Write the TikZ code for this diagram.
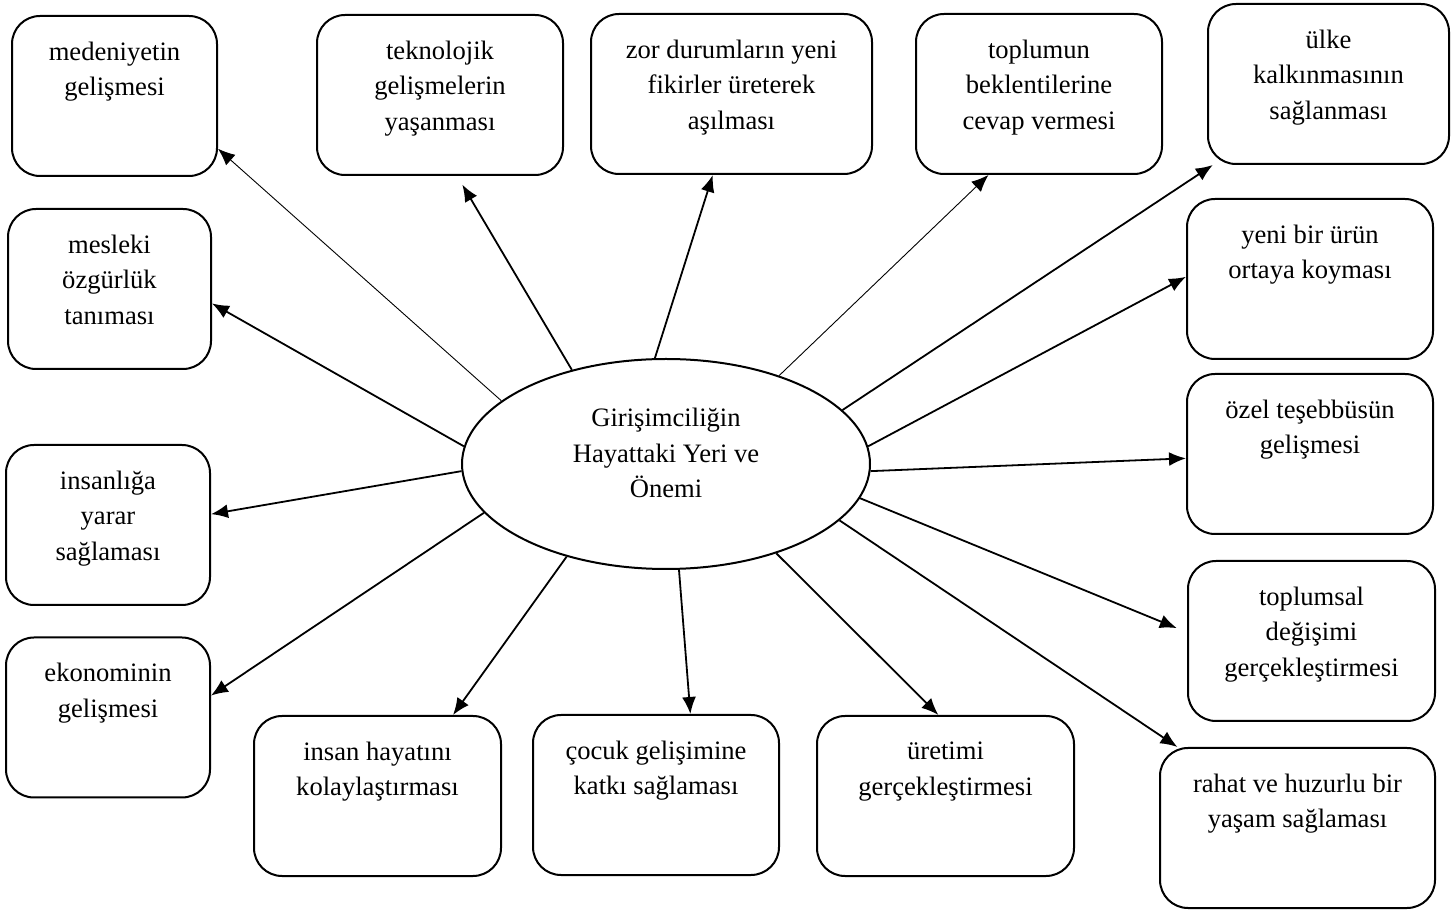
\documentclass[tikz,border=0pt]{standalone}
\usepackage{fontspec}
\setmainfont{Liberation Serif}
\usetikzlibrary{arrows.meta,shapes.geometric}

\begin{document}
\begin{tikzpicture}
	  [
	    x                     = 0.5pt,
	    y                     = -0.5pt,
	    every node/.style     = {font=\fontsize{13.3}{17.75}\selectfont},
	    kutu/.style           = {draw, line width=1pt, rounded corners=14pt,
	                             minimum height=80pt, inner sep=0pt},
	    yazi/.style           = {anchor=north, align=center, inner sep=0pt, yshift=-13.25pt},
	    merkez/.style         = {draw, ellipse, line width=1pt, inner sep=0pt,
	                             minimum width=204pt, minimum height=105pt},
	    ok/.style             = {-{Latex[length=8.5pt,width=7pt]}, line width=0.9pt},
	    ince/.style           = {ok, line width=0.45pt}
	  ]
		\useasboundingbox (0,0) rectangle (1451,913);

		% merkez
		\node[merkez, label={[align=center, yshift=5.5pt]center:Girişimciliğin\\Hayattaki Yeri ve\\Önemi}] (hub) at (666,464) {};

		% ust sira
		\node[kutu, minimum width=102.5pt, label={[yazi]north:medeniyetin\\gelişmesi}] (medeniyet) at (114.5,96) {};
		\node[kutu, minimum width=123pt, label={[yazi]north:teknolojik\\gelişmelerin\\yaşanması}] (teknoloji) at (440,95) {};
		\node[kutu, minimum width=140.5pt, label={[yazi]north:zor durumların yeni\\fikirler üreterek\\aşılması}] (zor) at (731.5,94) {};
		\node[kutu, minimum width=123pt, label={[yazi]north:toplumun\\beklentilerine\\cevap vermesi}] (toplum) at (1039,94) {};
		\node[kutu, minimum width=120.5pt, label={[yazi]north:ülke\\kalkınmasının\\sağlanması}] (ulke) at (1328.5,84) {};

		% sol sutun
		\node[kutu, minimum width=101.5pt, label={[yazi]north:mesleki\\özgürlük\\tanıması}] (meslek) at (109.5,289) {};
		\node[kutu, minimum width=102pt, label={[yazi]north:insanlığa\\yarar\\sağlaması}] (insanlik) at (108,525) {};
		\node[kutu, minimum width=102pt, label={[yazi]north:ekonominin\\gelişmesi}] (ekonomi) at (108,717.5) {};

		% sag sutun
		\node[kutu, minimum width=123pt, label={[yazi]north:yeni bir ürün\\ortaya koyması}] (urun) at (1310,279) {};
		\node[kutu, minimum width=123pt, label={[yazi]north:özel teşebbüsün\\gelişmesi}] (ozel) at (1310,454) {};
		\node[kutu, minimum width=123.5pt, label={[yazi]north:toplumsal\\değişimi\\gerçekleştirmesi}] (degisim) at (1311.5,641) {};
		\node[kutu, minimum width=137.5pt, label={[yazi]north:rahat ve huzurlu bir\\yaşam sağlaması}] (rahat) at (1297.5,828) {};

		% alt sira
		\node[kutu, minimum width=123.5pt, label={[yazi]north:insan hayatını\\kolaylaştırması}] (hayat) at (377.5,796) {};
		\node[kutu, minimum width=123pt, label={[yazi]north:çocuk gelişimine\\katkı sağlaması}] (cocuk) at (656,795) {};
		\node[kutu, minimum width=128.5pt, label={[yazi]north:üretimi\\gerçekleştirmesi}] (uretim) at (945.5,796) {};

		% oklar
		\draw[ince] (hub.159) -- (medeniyet.-27);
		\draw[ok, shorten >=5pt] (hub.135) -- (teknoloji.-78);
		\draw[ok] (hub.96) -- (zor.-103);
		\draw[ince] (hub.38) -- (toplum.-122);
		\draw[ok] (hub.17) -- (ulke.-145);
		\draw[ok] (hub.175) -- (meslek.-8);
		\draw[ok] (hub.5) -- (urun.179);
		\draw[ok] (hub.-178) -- (insanlik.6);
		\draw[ok] (hub.-2) -- (ozel.-178);
		\draw[ok] (hub.-165) -- (ekonomi.12);
		\draw[ok, shorten >=5.5pt] (hub.-10) -- (degisim.176);
		\draw[ok] (hub.-137) -- (hayat.47);
		\draw[ok] (hub.-83) -- (cocuk.67);
		\draw[ok] (hub.-39) -- (uretim.95);
		\draw[ok] (hub.-18) -- (rahat.146);
	\end{tikzpicture}
\end{document}
